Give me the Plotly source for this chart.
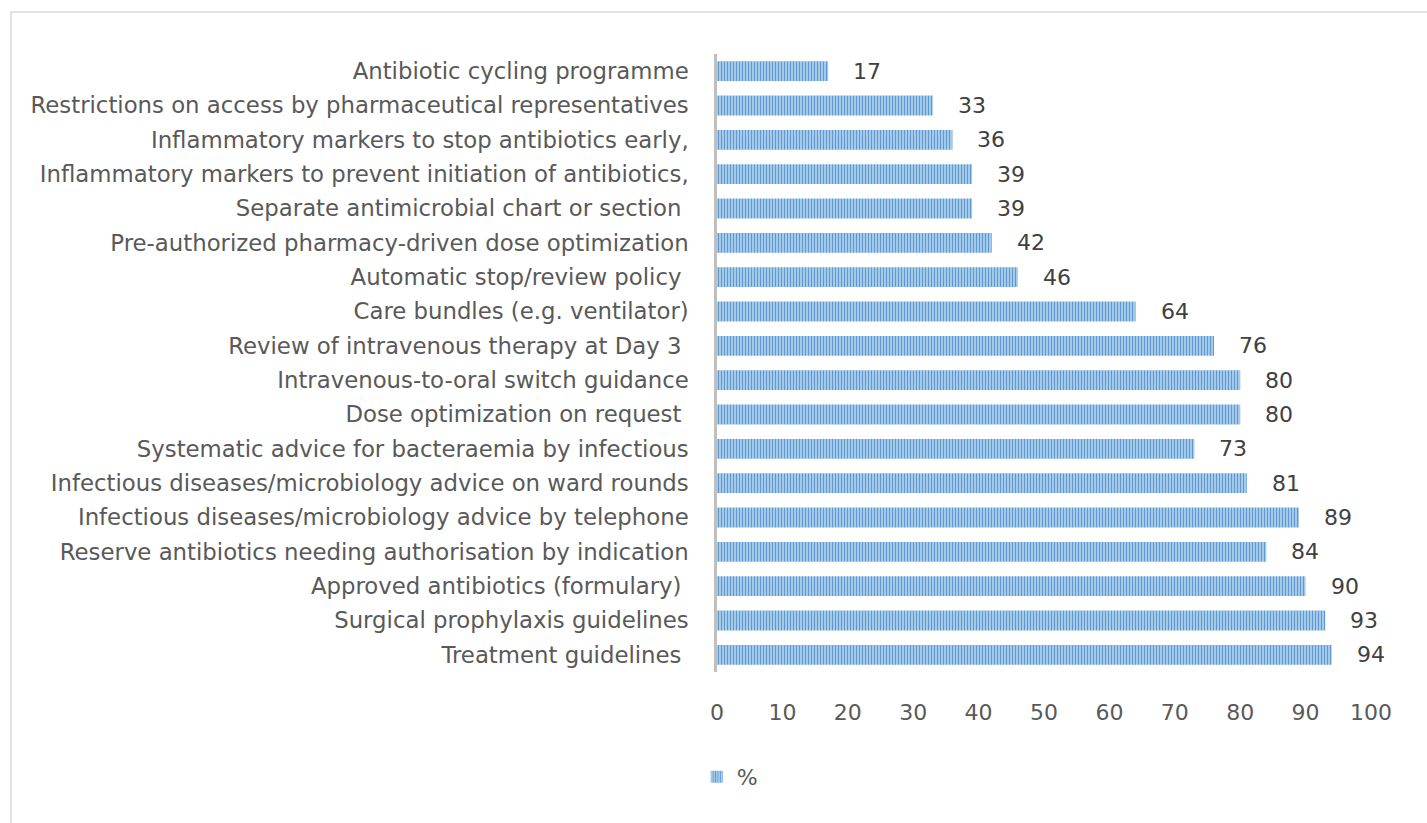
import plotly.graph_objects as go

# Antimicrobial stewardship interventions (top to bottom as shown)
categories = [
    "Antibiotic cycling programme",
    "Restrictions on access by pharmaceutical representatives",
    "Inflammatory markers to stop antibiotics early,",
    "Inflammatory markers to prevent initiation of antibiotics,",
    "Separate antimicrobial chart or section\u00a0",
    "Pre-authorized pharmacy-driven dose optimization",
    "Automatic stop/review policy\u00a0",
    "Care bundles (e.g. ventilator)",
    "Review of intravenous therapy at Day 3\u00a0",
    "Intravenous-to-oral switch guidance",
    "Dose optimization on request\u00a0",
    "Systematic advice for bacteraemia by infectious",
    "Infectious diseases/microbiology advice on ward rounds",
    "Infectious diseases/microbiology advice by telephone",
    "Reserve antibiotics needing authorisation by indication",
    "Approved antibiotics (formulary)\u00a0",
    "Surgical prophylaxis guidelines",
    "Treatment guidelines\u00a0",
]
percent = [17, 33, 36, 39, 39, 42, 46, 64, 76, 80, 80, 73, 81, 89, 84, 90, 93, 94]
x_ticks = [0, 10, 20, 30, 40, 50, 60, 70, 80, 90, 100]

FONT = "DejaVu Sans"
TEXT_COLOR = "#595959"
LABEL_SIZE = 22.8
NUM_SIZE = 22

fig = go.Figure()
fig.add_trace(go.Bar(
    x=percent,
    y=categories,
    orientation="h",
    name="%",
    marker=dict(
        color="#5b9bd5",
        line=dict(width=0),
        pattern=dict(shape="|", fgcolor="#5b9bd5", bgcolor="#bfd8ef",
                     size=3, solidity=0.5, fillmode="replace"),
    ),
))

for c, v in zip(categories, percent):
    fig.add_annotation(x=v, y=c, text=str(v), showarrow=False,
                       xanchor="left", xshift=23,
                       font=dict(family=FONT, size=NUM_SIZE, color="#404040"))

# outer chart frame
fig.add_shape(type="rect", xref="paper", yref="paper",
              x0=(11 - 717) / 654, x1=1.2, y0=-0.5, y1=(672 - 12) / 618,
              line=dict(color="#d9d9d9", width=1.5), fillcolor="rgba(0,0,0,0)",
              layer="below")

fig.update_layout(
    width=1427, height=823,
    margin=dict(l=717, r=56, t=54, b=151),
    paper_bgcolor="white", plot_bgcolor="white",
    bargap=0.42,
    showlegend=True,
    legend=dict(orientation="h", x=-0.031, y=-0.17, xanchor="left", yanchor="middle",
                font=dict(family=FONT, size=NUM_SIZE, color=TEXT_COLOR)),
    font=dict(family=FONT, size=LABEL_SIZE, color=TEXT_COLOR),
)
fig.update_xaxes(range=[0, 100], tickvals=x_ticks, showgrid=False, zeroline=False,
                 showline=False, ticks="", ticklabelstandoff=25,
                 tickfont=dict(family=FONT, size=NUM_SIZE, color=TEXT_COLOR))
fig.update_yaxes(categoryorder="array", categoryarray=categories[::-1],
                 showgrid=False, zeroline=False, showline=True,
                 linecolor="#bfbfbf", linewidth=2.5, ticks="",
                 ticklabelstandoff=21,
                 tickfont=dict(family=FONT, size=LABEL_SIZE, color=TEXT_COLOR))

fig.write_html("out.html")
